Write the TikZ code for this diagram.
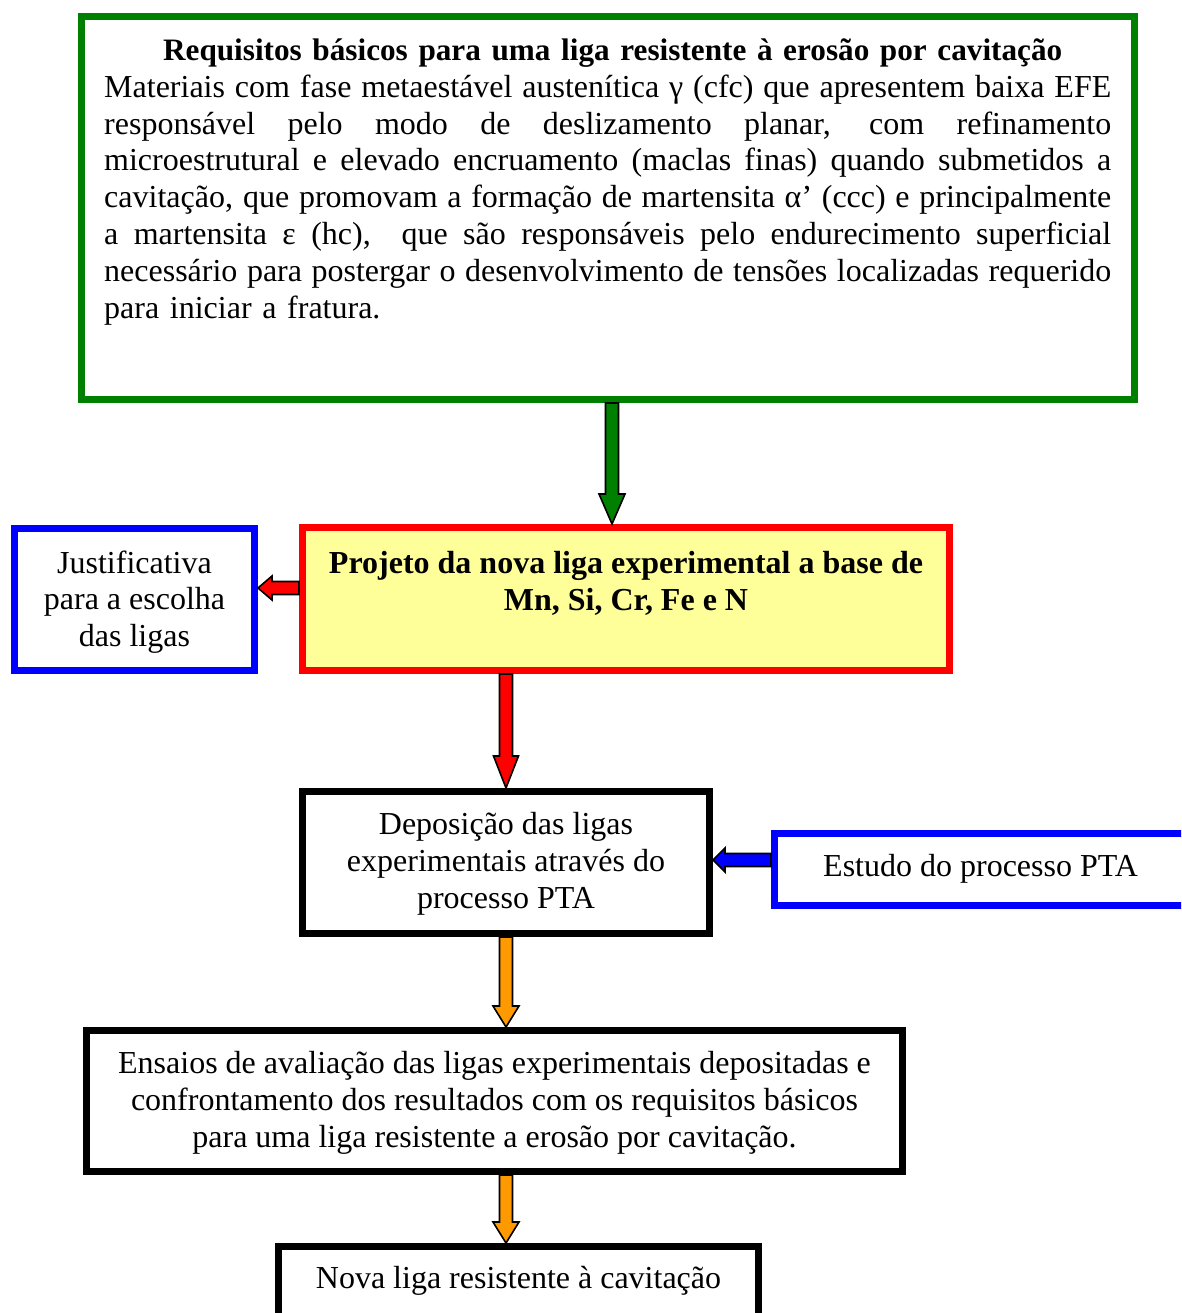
\documentclass[tikz,border=0pt]{standalone}
\usepackage{fontspec}
\setmainfont{Liberation Serif}
\usetikzlibrary{calc}
\definecolor{boxgreen}{RGB}{0,128,0}
\definecolor{boxred}{RGB}{255,0,0}
\definecolor{boxblue}{RGB}{0,0,255}
\definecolor{boxyellow}{RGB}{255,255,153}
\definecolor{arrorange}{RGB}{255,153,0}
\newcommand{\blkdown}[5]{%
  \filldraw[blockarrow, fill=#3] let \p1=(#1), \p2=(#2) in
  (\x1-6.5pt,\y1) -- (\x1-6.5pt,\y2+#4) -- (\x1-#5,\y2+#4) -- (\x1,\y2)
  -- (\x1+#5,\y2+#4) -- (\x1+6.5pt,\y2+#4) -- (\x1+6.5pt,\y1) -- cycle;}
\newcommand{\blkleft}[5]{%
  \filldraw[blockarrow, fill=#3] let \p1=(#1), \p2=(#2) in
  (\x1,\y1+6.5pt) -- (\x2+#4,\y1+6.5pt) -- (\x2+#4,\y1+#5) -- (\x2,\y1)
  -- (\x2+#4,\y1-#5) -- (\x2+#4,\y1-6.5pt) -- (\x1,\y1-6.5pt) -- cycle;}
\newcommand{\jline}[1]{\hbox to \linewidth{\spaceskip=0.25em plus 1fil minus 0.12em\relax #1}}
\tikzset{
  box/.style={draw, rectangle, line width=7pt, inner sep=0pt, fill=white},
  txt/.style={inner sep=0pt, align=center},
  blockarrow/.style={draw=black, line width=1.6pt, line join=miter}
}
\begin{document}
\begin{tikzpicture}[x=1pt, y=-1pt, font=\fontsize{32}{36.8}\selectfont]
\useasboundingbox (0,0) rectangle (1181,1313);
\clip (0,0) rectangle (1181,1313);
% boxes
\node[box, draw=boxgreen, minimum width=1053pt, minimum height=383pt] (green) at (608,208) {};
\node[inner sep=0pt, text width=1007pt, anchor=north west] (greentext) at (104,38.5) {%
  \hbox to \linewidth{\hfil\hskip10pt\fontsize{31.2}{36.8}\selectfont\bfseries Requisitos básicos para uma liga resistente à erosão por cavitação\hfil}
  \jline{Materiais com fase metaestável austenítica γ (cfc) que apresentem baixa EFE}
  \jline{responsável pelo modo de deslizamento planar, com refinamento}
  \jline{microestrutural e elevado encruamento (maclas finas) quando submetidos a}
  \jline{cavitação, que promovam a formação de martensita α’ (ccc) e principalmente}
  \jline{a martensita ε (hc),\ \ que são responsáveis pelo endurecimento superficial}
  \jline{necessário para postergar o desenvolvimento de tensões localizadas requerido}
  \hbox{para iniciar a fratura.}};
\node[box, draw=boxred, fill=boxyellow, minimum width=647pt, minimum height=143pt] (yellow) at (626,599) {};
\node[txt, font=\fontsize{32}{36.8}\selectfont\bfseries] (yellowtext) at (626,583)
  {Projeto da nova liga experimental a base de\\Mn, Si, Cr, Fe e N};
\node[box, draw=boxblue, minimum width=240pt, minimum height=142pt] (justif) at (134.5,599.5) {};
\node[txt] (justiftext) at (134.5,602) {Justificativa\\para a escolha\\das ligas};
\node[box, draw=black, minimum width=407pt, minimum height=142pt] (depo) at (506,862.5) {};
\node[txt] (depotext) at (506,864) {Deposição das ligas\\experimentais através do\\processo PTA};
\node[box, draw=boxblue, minimum width=426pt, minimum height=72pt] (estudo) at (987.5,869.5) {};
\node[txt, anchor=west] (estudotext) at (823,869) {Estudo do processo PTA};
\node[box, draw=black, minimum width=816pt, minimum height=141pt] (ensaios) at (494.5,1101) {};
\node[txt] (ensaiostext) at (494.5,1103) {Ensaios de avaliação das ligas experimentais depositadas e\\confrontamento dos resultados com os requisitos básicos\\para uma liga resistente a erosão por cavitação.};
\node[box, draw=black, minimum width=480pt, minimum height=84pt] (nova) at (518.5,1288.5) {};
\node[txt] (novatext) at (518.5,1281) {Nova liga resistente à cavitação};
% arrows
\blkdown{[xshift=4pt]green.south}{yellow.north}{boxgreen}{30pt}{13pt}
\blkdown{yellow.south -| depo.north}{depo.north}{boxred}{32pt}{12.5pt}
\blkdown{depo.south}{ensaios.north}{arrorange}{21pt}{13pt}
\blkdown{ensaios.south -| depo.south}{nova.north}{arrorange}{21pt}{13pt}
\blkleft{[yshift=11pt]yellow.west}{justif.east}{boxred}{14pt}{12pt}
\blkleft{[yshift=9.5pt]estudo.west}{depo.east}{boxblue}{12pt}{12pt}
\end{tikzpicture}
\end{document}
